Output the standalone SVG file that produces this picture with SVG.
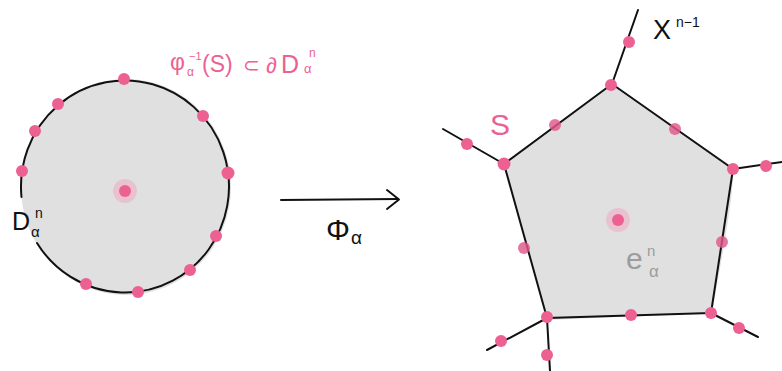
<svg xmlns="http://www.w3.org/2000/svg" width="782" height="371" viewBox="0 0 782 371">
<style>
.ln{fill:none;stroke:#111;stroke-width:2;stroke-linecap:round;stroke-linejoin:round}
.dot{fill:#ec6192}
.dm{fill:#e0578a;opacity:0.82}
.halo{fill:#e8c2cf}
.pk{fill:#ec6192;font-family:"Liberation Sans",sans-serif}
.bk{fill:#111;font-family:"Liberation Sans",sans-serif}
.gr{fill:#9c9c9c;font-family:"Liberation Sans",sans-serif}
</style>
<g id="disk">
<ellipse cx="126" cy="187" rx="105" ry="108" fill="#e0e0e0"/>
<path class="ln" d="M 21.5 197 A 104 106 0 1 1 37 243"/>
<circle class="halo" cx="125" cy="191" r="12"/>
<circle class="dot" cx="125" cy="191" r="6"/>
<circle class="dot" cx="124" cy="79" r="6"/>
<circle class="dot" cx="58" cy="104" r="6"/>
<circle class="dot" cx="35" cy="131" r="6"/>
<circle class="dot" cx="22" cy="171" r="6"/>
<circle class="dot" cx="203" cy="116" r="6"/>
<circle class="dot" cx="228" cy="173" r="6.5"/>
<circle class="dot" cx="216" cy="236" r="6"/>
<circle class="dot" cx="190" cy="270" r="6"/>
<circle class="dot" cx="86" cy="284" r="6"/>
<circle class="dot" cx="138" cy="292" r="6"/>
<text class="bk" font-size="25" x="12" y="230">D<tspan x="35" y="218" font-size="14">n</tspan><tspan x="31" y="237" font-size="15">α</tspan></text>
</g>
<g id="label-preimage">
<text class="pk" font-size="23" x="170" y="70">φ<tspan x="187" y="76" font-size="12">α</tspan><tspan x="189" y="60" font-size="11">−1</tspan><tspan x="202" y="72" font-size="23">(S)</tspan><tspan x="243" y="72" font-size="20">⊂</tspan><tspan x="266" y="73" font-size="22">∂</tspan><tspan x="281" y="73" font-size="25">D</tspan><tspan x="309" y="57" font-size="12">n</tspan><tspan x="304" y="73" font-size="13">α</tspan></text>
</g>
<g id="connectors">
<path class="ln" d="M 281 200 L 398 199"/>
<path class="ln" d="M 387 190 L 399 199.5 L 387 209"/>
</g>
<g id="label-phi">
<text class="bk" font-size="30" x="326" y="240">Φ<tspan x="351" y="244" font-size="19">α</tspan></text>
</g>
<g id="cell">
<path d="M 612 84 L 734 168 L 731 200 L 725 240 L 712 313 L 548 320 L 505 164 Z" fill="#e0e0e0"/>
<path class="ln" d="M 612 84 L 733 169 L 711 313 L 547 318 L 504 164 Z"/>
<path class="ln" d="M 612 84 L 638 10"/>
<path class="ln" d="M 504 164 L 443 129"/>
<path class="ln" d="M 733 169 L 782 162"/>
<path class="ln" d="M 711 313 L 758 337"/>
<path class="ln" d="M 547 318 L 487 350"/>
<path class="ln" d="M 547 318 L 550 371"/>
<circle class="halo" cx="618" cy="220" r="12"/>
<circle class="dot" cx="618" cy="220" r="6"/>
<circle class="dot" cx="611" cy="85" r="6"/>
<circle class="dot" cx="733" cy="169" r="6"/>
<circle class="dot" cx="711" cy="313" r="6"/>
<circle class="dot" cx="547" cy="317" r="6"/>
<circle class="dot" cx="504" cy="164" r="6.5"/>
<circle class="dm" cx="555" cy="125" r="6"/>
<circle class="dm" cx="675" cy="129" r="6"/>
<circle class="dm" cx="722" cy="242" r="6"/>
<circle class="dot" cx="631" cy="315" r="6"/>
<circle class="dm" cx="524" cy="248" r="6"/>
<circle class="dot" cx="629" cy="42" r="6"/>
<circle class="dot" cx="467" cy="144" r="6"/>
<circle class="dot" cx="766" cy="166" r="6"/>
<circle class="dot" cx="739" cy="328" r="6"/>
<circle class="dot" cx="501" cy="341" r="6"/>
<circle class="dot" cx="547" cy="355" r="6"/>
<text class="gr" font-size="30" x="626" y="269">e<tspan x="647" y="256" font-size="15">n</tspan><tspan x="649" y="277" font-size="17">α</tspan></text>
</g>
<g id="label-S">
<text class="pk" x="490" y="135" font-size="30">S</text>
</g>
<g id="label-X">
<text class="bk" font-size="27" x="653" y="39">X<tspan x="676" y="27" font-size="14">n−1</tspan></text>
</g>
</svg>
